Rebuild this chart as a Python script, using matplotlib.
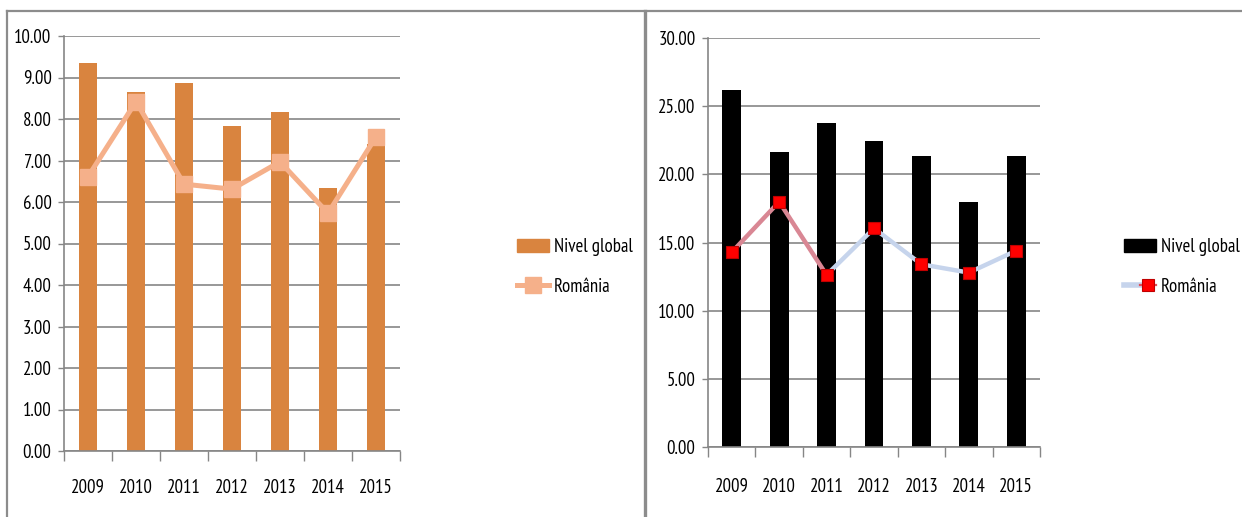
"""Nivel global vs. România, 2009-2015: two side-by-side bar + line panels."""

import matplotlib

matplotlib.use("Agg")
import matplotlib.pyplot as plt
import numpy as np
from matplotlib.collections import LineCollection
from matplotlib.legend_handler import HandlerTuple
from matplotlib.lines import Line2D
from matplotlib.patches import Patch

plt.rcParams["font.family"] = ["PT Sans Narrow", "DejaVu Sans"]

years = ["2009", "2010", "2011", "2012", "2013", "2014", "2015"]

# left panel
global_left = [9.34, 8.66, 8.86, 7.84, 8.18, 6.33, 7.39]
romania_left = [6.61, 8.42, 6.43, 6.31, 6.97, 5.73, 7.57]

# right panel
global_right = [26.17, 21.65, 23.80, 22.41, 21.33, 17.99, 21.33]
romania_right = [14.28, 17.99, 12.62, 16.04, 13.40, 12.79, 14.40]

W, H = 1242, 517
GRID = "#868686"
FS = 13.5


def px_axes(fig, x0, y_top, x1, y_bot):
    return fig.add_axes([x0 / W, 1 - y_bot / H, (x1 - x0) / W, (y_bot - y_top) / H])


def style_axes(ax, ymax, step, xpad):
    n = len(years)
    ax.set_xlim(-0.5, n - 0.5)
    ax.set_ylim(0, ymax)
    ax.set_yticks(np.arange(0, ymax + step / 2, step))
    ax.yaxis.set_major_formatter(lambda v, _: f"{v:.2f}")
    ax.set_xticks(np.arange(n))
    ax.set_xticklabels(years)
    ax.set_xticks(np.arange(-0.5, n, 1.0), minor=True)
    ax.tick_params(axis="x", which="major", length=0, pad=xpad, labelsize=FS)
    ax.tick_params(axis="x", which="minor", length=7, color=GRID, width=1)
    ax.tick_params(axis="y", length=4, color=GRID, width=1, pad=5, labelsize=FS)
    ax.grid(axis="y", color=GRID, lw=1.2)
    ax.set_axisbelow(True)
    for side in ("top", "right"):
        ax.spines[side].set_visible(False)
    for side in ("left", "bottom"):
        ax.spines[side].set_color(GRID)
        ax.spines[side].set_linewidth(1.2)


fig = plt.figure(figsize=(W / 100, H / 100), dpi=100)
x = np.arange(len(years))

# ---- left: orange bars, salmon line
ax1 = px_axes(fig, 64, 36, 400, 451)
style_axes(ax1, 10, 1, 20)
ax1.bar(x, global_left, width=0.39, color="#d9843f", zorder=2)
ax1.plot(x, romania_left, color="#f5b08a", lw=3.6, marker="s", ms=11,
         mec="#f5b08a", mfc="#f5b08a", zorder=3)

h1 = [Patch(color="#d9843f"),
      Line2D([], [], color="#f5b08a", lw=3.6, marker="s", ms=11)]
fig.legend(h1, ["Nivel global", "România"], loc="center left",
           bbox_to_anchor=(517 / W, 1 - 267 / H), frameon=False, fontsize=FS,
           handlelength=1.7, handletextpad=0.25, labelspacing=1.15,
           borderpad=0, borderaxespad=0)

# ---- right: black bars, red markers on a blue-grey line
ax2 = px_axes(fig, 708, 38, 1040, 447)
style_axes(ax2, 30, 5, 22)
ax2.bar(x, global_right, width=0.4, color="black", zorder=2)
pts = np.column_stack([x, romania_right])
segs = np.stack([pts[:-1], pts[1:]], axis=1)
seg_colors = ["#d98794", "#d98794", "#c6d4ec", "#c6d4ec", "#c6d4ec", "#c6d4ec"]
ax2.add_collection(LineCollection(segs, colors=seg_colors, lw=3.2,
                                  capstyle="round", zorder=3))
ax2.plot(x, romania_right, ls="none", marker="s", ms=9, mfc="#ff0000",
         mec="#c00000", mew=0.8, zorder=4)

h2 = [Patch(color="black"),
      (Line2D([], [], color="#c6d4ec", lw=4),
       Line2D([], [], color="#e0505a", lw=1.6, marker="s", ms=9,
              mfc="#ff0000", mec="#c00000", mew=0.8))]
fig.legend(h2, ["Nivel global", "România"], loc="center left",
           bbox_to_anchor=(1124 / W, 1 - 267 / H), frameon=False, fontsize=FS,
           handlelength=1.7, handletextpad=0.25, labelspacing=1.15,
           borderpad=0, borderaxespad=0,
           handler_map={tuple: HandlerTuple(ndivide=None)})

# panel frames
frame = "#8c8c8c"
fig.add_artist(Line2D([7 / W, 1], [1 - 11 / H] * 2, color=frame, lw=1.6))
fig.add_artist(Line2D([7 / W] * 2, [0, 1 - 11 / H], color=frame, lw=1.6))
fig.add_artist(Line2D([645 / W] * 2, [0, 1 - 11 / H], color=frame, lw=2.4))

fig.savefig("out.png", dpi=100)
